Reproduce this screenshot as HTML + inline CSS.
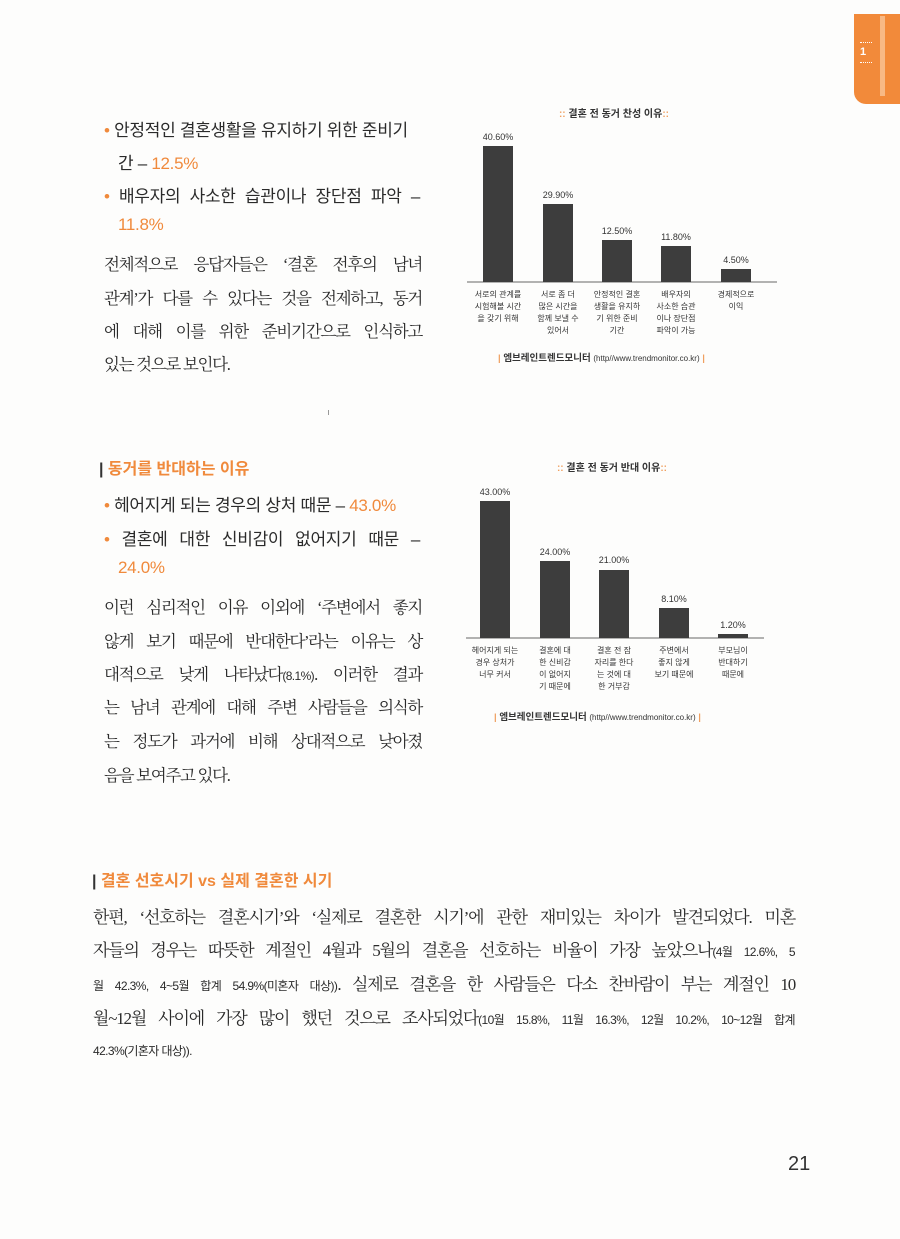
<!DOCTYPE html>
<html><head><meta charset="utf-8">
<style>
body{margin:0;background:#fff;}
#p{position:relative;width:900px;height:1239px;overflow:hidden;background:#fdfdfc;color:#2a2a2a;}
.a{position:absolute;white-space:nowrap;}
.s{font-family:"Liberation Sans","Noto Sans CJK KR",sans-serif;}
.r{font-family:"Liberation Serif","Noto Serif CJK SC",serif;}
.j{text-align:justify;text-align-last:justify;white-space:nowrap;}
.o{color:#f08a3c;}
.bul{font-size:17px;letter-spacing:-0.3px;}
.body{font-size:16.5px;letter-spacing:-1.3px;}
.body2{font-size:17px;letter-spacing:-1.2px;}
.sm{font-family:"Liberation Sans","Noto Sans CJK KR",sans-serif;font-size:12px;letter-spacing:-0.6px;}
.h{font-family:"Liberation Sans","Noto Sans CJK KR",sans-serif;font-weight:bold;font-size:16px;color:#f08a3c;}
.h b{color:#333;}
</style></head><body><div id="p">

<!-- tab -->
<div class="a" style="left:854px;top:14px;width:46px;height:90px;background:#f28a3a;border-bottom-left-radius:12px;"></div>
<div class="a s" style="left:860px;top:46px;color:#fff;font-size:11px;font-weight:bold;">1</div>
<div class="a" style="left:860px;top:42px;width:12px;border-top:1px dotted #fff"></div>
<div class="a" style="left:860px;top:62px;width:12px;border-top:1px dotted #fff"></div>
<div class="a" style="left:880px;top:16px;width:5px;height:80px;background:#fbd9b8;opacity:.6"></div>

<!-- section 1 text -->
<div class="a s bul" style="left:104px;top:116px;"><span class="o">•</span> 안정적인 결혼생활을 유지하기 위한 준비기</div>
<div class="a s bul" style="left:118px;top:149px;">간 – <span class="o">12.5%</span></div>
<div class="a s bul j" style="left:104px;top:182px;width:316px;"><span class="o">•</span> 배우자의 사소한 습관이나 장단점 파악 –</div>
<div class="a s bul o" style="left:118px;top:215px;">11.8%</div>
<div class="a r body j" style="left:104px;top:251px;width:318px;">전체적으로 응답자들은 ‘결혼 전후의 남녀</div>
<div class="a r body j" style="left:104px;top:285px;width:318px;">관계’가 다를 수 있다는 것을 전제하고, 동거</div>
<div class="a r body j" style="left:104px;top:318px;width:318px;">에 대해 이를 위한 준비기간으로 인식하고</div>
<div class="a r body" style="left:104px;top:351px;">있는 것으로 보인다.</div>

<!-- section 2 text -->
<div class="a h" style="left:99px;top:455px;"><b>|</b> 동거를 반대하는 이유</div>
<div class="a s bul" style="left:104px;top:491px;"><span class="o">•</span> 헤어지게 되는 경우의 상처 때문 – <span class="o">43.0%</span></div>
<div class="a s bul j" style="left:104px;top:525px;width:316px;"><span class="o">•</span> 결혼에 대한 신비감이 없어지기 때문 –</div>
<div class="a s bul o" style="left:118px;top:558px;">24.0%</div>
<div class="a r body j" style="left:104px;top:594px;width:318px;">이런 심리적인 이유 이외에 ‘주변에서 좋지</div>
<div class="a r body j" style="left:104px;top:628px;width:318px;">않게 보기 때문에 반대한다’라는 이유는 상</div>
<div class="a r body j" style="left:104px;top:661px;width:318px;">대적으로 낮게 나타났다<span class="sm">(8.1%)</span>. 이러한 결과</div>
<div class="a r body j" style="left:104px;top:694px;width:318px;">는 남녀 관계에 대해 주변 사람들을 의식하</div>
<div class="a r body j" style="left:104px;top:728px;width:318px;">는 정도가 과거에 비해 상대적으로 낮아졌</div>
<div class="a r body" style="left:104px;top:762px;">음을 보여주고 있다.</div>

<!-- section 3 -->
<div class="a h" style="left:92px;top:867px;"><b>|</b> 결혼 선호시기 vs 실제 결혼한 시기</div>
<div class="a r body2 j" style="left:93px;top:903px;width:702px;">한편, ‘선호하는 결혼시기’와 ‘실제로 결혼한 시기’에 관한 재미있는 차이가 발견되었다. 미혼</div>
<div class="a r body2 j" style="left:93px;top:936px;width:702px;">자들의 경우는 따뜻한 계절인 4월과 5월의 결혼을 선호하는 비율이 가장 높았으나<span class="sm">(4월 12.6%, 5</span></div>
<div class="a r body2 j" style="left:93px;top:970px;width:702px;"><span class="sm">월 42.3%, 4~5월 합계 54.9%(미혼자 대상))</span>. 실제로 결혼을 한 사람들은 다소 찬바람이 부는 계절인 10</div>
<div class="a r body2 j" style="left:93px;top:1004px;width:702px;">월~12월 사이에 가장 많이 했던 것으로 조사되었다<span class="sm">(10월 15.8%, 11월 16.3%, 12월 10.2%, 10~12월 합계</span></div>
<div class="a sm" style="left:93px;top:1042px;">42.3%(기혼자 대상)).</div>

<div class="a s" style="left:788px;top:1153px;font-size:20px;color:#333;">21</div>
<div class="a" style="left:328px;top:410px;width:1px;height:5px;background:#999"></div>

<svg class="a" style="left:0;top:0" width="900" height="1239">
<g font-family="Liberation Sans,Noto Sans CJK KR,sans-serif" fill="#333">
<text x="614" y="117" font-size="10" font-weight="bold" text-anchor="middle"><tspan fill="#f0a060">::</tspan> 결혼 전 동거 찬성 이유<tspan fill="#f0a060">::</tspan></text>
<line x1="467" y1="282" x2="777" y2="282" stroke="#666" stroke-width="1"/>
<g fill="#3d3d3d">
<rect x="483" y="146" width="30" height="136"/>
<rect x="543" y="204" width="30" height="78"/>
<rect x="602" y="240" width="30" height="42"/>
<rect x="661" y="246" width="30" height="36"/>
<rect x="721" y="269" width="30" height="13"/>
</g>
<g font-size="9" text-anchor="middle">
<text x="498" y="140">40.60%</text><text x="558" y="198">29.90%</text><text x="617" y="234">12.50%</text><text x="676" y="240">11.80%</text><text x="736" y="263">4.50%</text>
</g>
<g font-size="8" text-anchor="middle">
<text x="498" y="297">서로의 관계를</text><text x="498" y="309">시험해볼 시간</text><text x="498" y="321">을 갖기 위해</text>
<text x="558" y="297">서로 좀 더</text><text x="558" y="309">많은 시간을</text><text x="558" y="321">함께 보낼 수</text><text x="558" y="333">있어서</text>
<text x="617" y="297">안정적인 결혼</text><text x="617" y="309">생활을 유지하</text><text x="617" y="321">기 위한 준비</text><text x="617" y="333">기간</text>
<text x="676" y="297">배우자의</text><text x="676" y="309">사소한 습관</text><text x="676" y="321">이나 장단점</text><text x="676" y="333">파악이 가능</text>
<text x="736" y="297">경제적으로</text><text x="736" y="309">이익</text>
</g>
<text x="498" y="361" font-size="9.5" font-weight="bold"><tspan fill="#f0a060">| </tspan>엠브레인트렌드모니터 <tspan font-size="8" font-weight="normal">(http//www.trendmonitor.co.kr)</tspan><tspan fill="#f0a060"> |</tspan></text>

<text x="612" y="471" font-size="10" font-weight="bold" text-anchor="middle"><tspan fill="#f0a060">::</tspan> 결혼 전 동거 반대 이유<tspan fill="#f0a060">::</tspan></text>
<line x1="466" y1="638" x2="764" y2="638" stroke="#666" stroke-width="1"/>
<g fill="#3d3d3d">
<rect x="480" y="501" width="30" height="137"/>
<rect x="540" y="561" width="30" height="77"/>
<rect x="599" y="570" width="30" height="68"/>
<rect x="659" y="608" width="30" height="30"/>
<rect x="718" y="634" width="30" height="4"/>
</g>
<g font-size="9" text-anchor="middle">
<text x="495" y="495">43.00%</text><text x="555" y="555">24.00%</text><text x="614" y="563">21.00%</text><text x="674" y="602">8.10%</text><text x="733" y="628">1.20%</text>
</g>
<g font-size="8" text-anchor="middle">
<text x="495" y="653">헤어지게 되는</text><text x="495" y="665">경우 상처가</text><text x="495" y="677">너무 커서</text>
<text x="555" y="653">결혼에 대</text><text x="555" y="665">한 신비감</text><text x="555" y="677">이 없어지</text><text x="555" y="689">기 때문에</text>
<text x="614" y="653">결혼 전 잠</text><text x="614" y="665">자리를 한다</text><text x="614" y="677">는 것에 대</text><text x="614" y="689">한 거부감</text>
<text x="674" y="653">주변에서</text><text x="674" y="665">좋지 않게</text><text x="674" y="677">보기 때문에</text>
<text x="733" y="653">부모님이</text><text x="733" y="665">반대하기</text><text x="733" y="677">때문에</text>
</g>
<text x="494" y="720" font-size="9.5" font-weight="bold"><tspan fill="#f0a060">| </tspan>엠브레인트렌드모니터 <tspan font-size="8" font-weight="normal">(http//www.trendmonitor.co.kr)</tspan><tspan fill="#f0a060"> |</tspan></text>
</g>
</svg>
</div></body></html>
